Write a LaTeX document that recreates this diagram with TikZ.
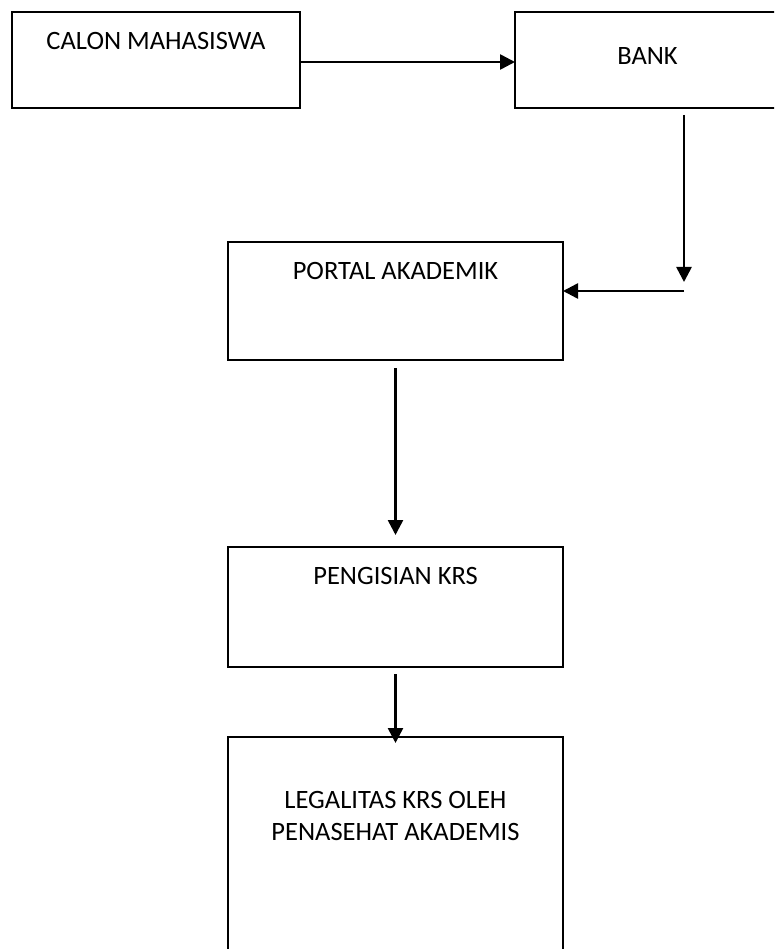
\documentclass[tikz,border=0pt]{standalone}
\usepackage{fontspec}
\setmainfont{Carlito}
\usetikzlibrary{arrows.meta}
\begin{document}
\begin{tikzpicture}[x=1pt,y=-1pt,
  box/.style={draw, line width=2pt, inner sep=0pt, outer sep=0pt, anchor=north west},
  txt/.style={inner sep=0pt, outer sep=0pt, anchor=north, align=center,
    font=\fontsize{26.5}{32}\selectfont},
  arr/.style={line width=2.6pt, -{Triangle[length=15pt,width=15pt]}}]
\useasboundingbox (0,0) rectangle (774,949);
\clip (0,0) rectangle (774,949);

% process boxes
\node[box, minimum width=288pt, minimum height=96pt]  (calon)     at (12,12)  {};
\node[box, minimum width=265pt, minimum height=96pt]  (bank)      at (515,12) {};
\node[box, minimum width=335pt, minimum height=118pt] (portal)    at (228,242) {};
\node[box, minimum width=335pt, minimum height=120pt] (pengisian) at (228,547) {};
\node[box, minimum width=335pt, minimum height=233pt] (legal)     at (228,737) {};

% box labels
\node[txt] (calonlbl)     at (156,32)    {CALON MAHASISWA};
\node[txt] (banklbl)      at (647.5,48)  {BANK};
\node[txt] (portallbl)    at (395.5,262) {PORTAL AKADEMIK};
\node[txt] (pengisianlbl) at (395.5,567) {PENGISIAN KRS};
\node[txt] (legallbl)     at (395.5,791) {LEGALITAS KRS OLEH\\PENASEHAT AKADEMIS};

% connectors
\coordinate (a1) at (300,62);
\draw[arr] (calon.east |- a1) -- (bank.west |- a1);

\coordinate (b1) at (684,115);
\coordinate (b2) at (684,282);
\draw[arr] (b1) -- (b2);

\coordinate (h1) at (684,291);
\draw[arr] (h1) -- (portal.east |- h1);

\draw[arr] ([yshift=-8pt]portal.south) -- ([yshift=12pt]pengisian.north);
\draw[arr] ([yshift=-7pt]pengisian.south) -- ([yshift=-6pt]legal.north);
\end{tikzpicture}
\end{document}
